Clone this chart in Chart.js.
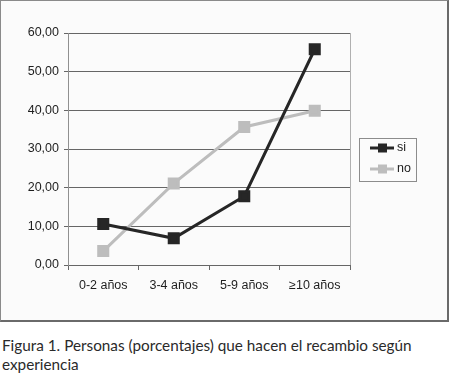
<!DOCTYPE html>
<html lang="es">
<head>
  <meta charset="UTF-8" />
  <title>Figura 1</title>
  <script src="https://cdn.jsdelivr.net/npm/chart.js"></script>
  <style>
    html, body {
      margin: 0;
      padding: 0;
      background: #ffffff;
    }
    body {
      width: 450px;
      height: 386px;
      position: relative;
      overflow: hidden;
    }
    .frame {
      position: absolute;
      left: 0;
      top: 0;
      width: 446px;
      height: 319px;
      border-top: 1px solid #8a8a8a;
      border-left: 1px solid #8a8a8a;
      border-right: 2px solid #6a6a6a;
      border-bottom: 2px solid #6a6a6a;
      background: #fbfbfb;
    }
    .frame canvas {
      position: absolute;
      left: 0;
      top: 0;
    }
    .caption {
      position: absolute;
      left: 2px;
      top: 336px;
      width: 446px;
      font-family: Lato, "Liberation Sans", sans-serif;
      font-size: 15.3px;
      line-height: 19px;
      color: #2a2a2a;
    }
  </style>
</head>
<body>
  <div class="frame">
    <canvas id="chart" width="446" height="319"></canvas>
  </div>
  <div class="caption">Figura 1. Personas (porcentajes) que hacen el recambio según<br>experiencia</div>

  <script>
    const categories = ["0-2 años", "3-4 años", "5-9 años", "≥10 años"];
    const siValues = [10.6, 6.9, 17.8, 55.8];
    const noValues = [3.6, 21.1, 35.7, 39.9];
    const seriesNames = ["si", "no"];
    const seriesColors = ["#262626", "#bdbdbd"];

    const fmt = v => v.toFixed(2).replace(".", ",");

    // leyenda dibujada a mano, como en el original
    const legendBox = {
      id: "legendBox",
      afterDraw(chart) {
        const ctx = chart.ctx;
        const x = 358, y = 137, w = 57, h = 43;
        ctx.save();
        ctx.fillStyle = "#fbfbfb";
        ctx.fillRect(x, y, w, h);
        ctx.strokeStyle = "#8c8c8c";
        ctx.lineWidth = 1;
        ctx.strokeRect(x + 0.5, y + 0.5, w, h);
        chart.data.datasets.forEach((ds, i) => {
          const cy = y + 10 + i * 21;
          ctx.strokeStyle = ds.borderColor;
          ctx.lineWidth = 3;
          ctx.beginPath();
          ctx.moveTo(x + 11, cy);
          ctx.lineTo(x + 35, cy);
          ctx.stroke();
          ctx.fillStyle = ds.borderColor;
          ctx.fillRect(x + 19, cy - 4.5, 9, 9);
          ctx.fillStyle = "#222";
          ctx.font = "12.5px 'Liberation Sans', Arial, sans-serif";
          ctx.textBaseline = "middle";
          ctx.fillText(ds.label, x + 38, cy);
        });
        ctx.restore();
      }
    };

    const ctx = document.getElementById("chart").getContext("2d");
    new Chart(ctx, {
      type: "line",
      data: {
        labels: categories,
        datasets: [
          {
            label: seriesNames[0],
            data: siValues,
            borderColor: seriesColors[0],
            backgroundColor: seriesColors[0],
            borderWidth: 3,
            pointStyle: "rect",
            pointRadius: 6.4,
            tension: 0
          },
          {
            label: seriesNames[1],
            data: noValues,
            borderColor: seriesColors[1],
            backgroundColor: seriesColors[1],
            borderWidth: 3,
            pointStyle: "rect",
            pointRadius: 6.4,
            tension: 0
          }
        ]
      },
      options: {
        responsive: false,
        animation: false,
        layout: {
          padding: { left: 0, top: 32, right: 97, bottom: 16 }
        },
        plugins: {
          legend: { display: false },
          tooltip: { enabled: false }
        },
        scales: {
          x: {
            offset: true,
            grid: {
              offset: true,
              drawOnChartArea: false,
              drawTicks: true,
              tickLength: 5,
              color: "#666"
            },
            border: { display: true, color: "#666", width: 1 },
            ticks: {
              color: "#1e1e1e",
              padding: 8,
              font: { family: "'Liberation Sans', Arial, sans-serif", size: 12.5 }
            },
            afterFit: s => { s.height = 39; }
          },
          y: {
            min: 0,
            max: 60,
            ticks: {
              stepSize: 10,
              color: "#1e1e1e",
              padding: 5,
              callback: v => fmt(v),
              font: { family: "'Liberation Sans', Arial, sans-serif", size: 12.5 }
            },
            grid: {
              color: "#666",
              drawTicks: true,
              tickLength: 4
            },
            border: { display: true, color: "#909090", width: 1 },
            afterFit: s => { s.width = 67; }
          }
        }
      },
      plugins: [
        legendBox,
        {
          id: "plotRight",
          afterDraw(chart) {
            const a = chart.chartArea;
            const c = chart.ctx;
            c.save();
            c.strokeStyle = "#b0b0b0";
            c.lineWidth = 1;
            c.beginPath();
            c.moveTo(Math.round(a.right) + 0.5, a.top);
            c.lineTo(Math.round(a.right) + 0.5, a.bottom);
            c.stroke();
            c.restore();
          }
        }
      ]
    });
  </script>
</body>
</html>
